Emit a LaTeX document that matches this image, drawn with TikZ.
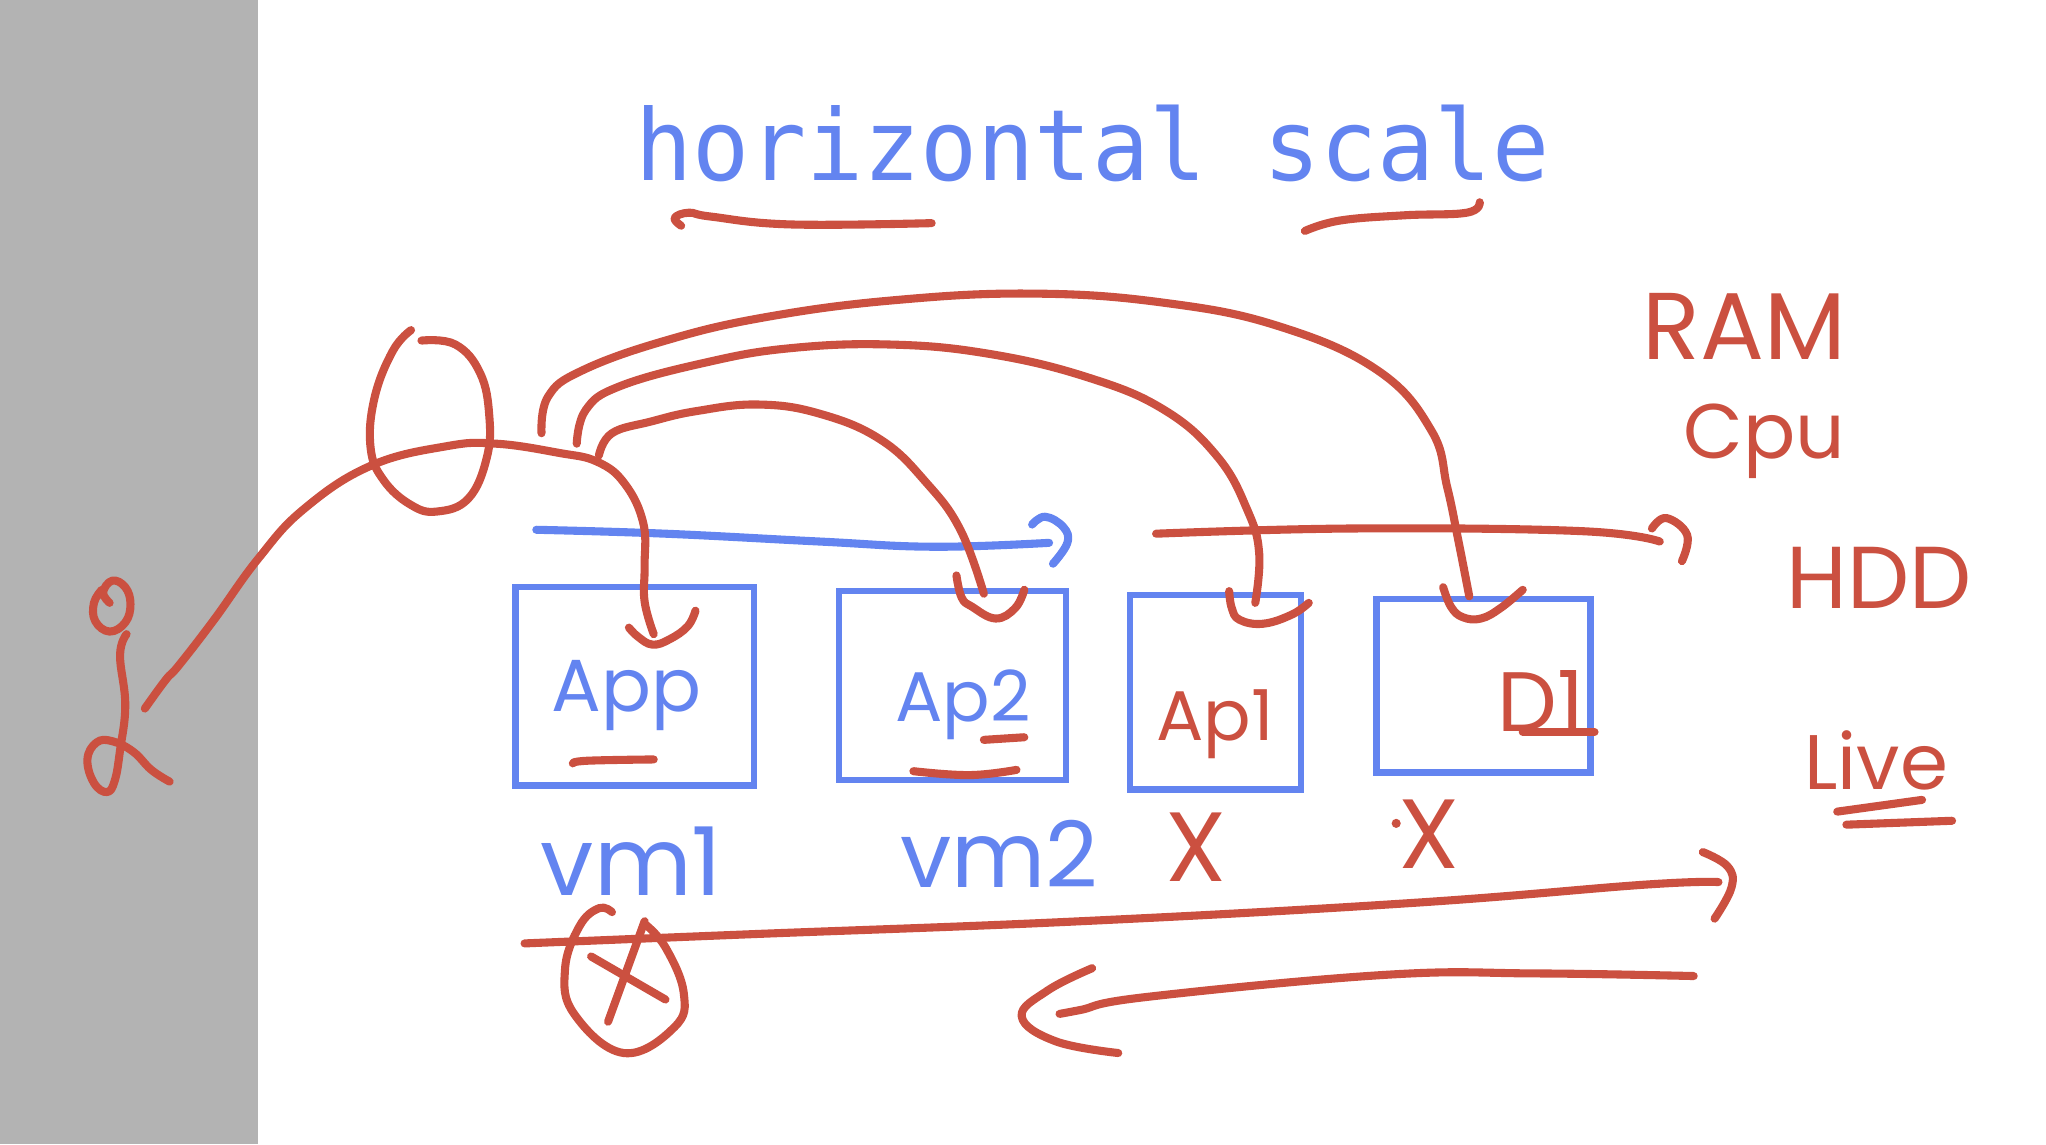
\documentclass[tikz,border=0pt]{standalone}
\usepackage{fontspec}
\setmonofont{DejaVu Sans Mono}
\newfontfamily\handfont{Poppins}
\definecolor{pen}{HTML}{CB5040}
\definecolor{ink}{HTML}{6384F0}
\definecolor{panel}{HTML}{B3B3B3}
\newcommand\handsize[1]{\fontsize{#1}{#1}\selectfont}
\begin{document}
\begin{tikzpicture}[x=0.013048cm,y=-0.013048cm]
    \tikzstyle{redpen}=[draw=pen,line width=2.3pt,line cap=round,line join=round,tension=0.7]
    \tikzstyle{bluepen}=[draw=ink,line width=2.3pt,line cap=round,line join=round,tension=0.7]
    \tikzstyle{vmbox}=[draw=ink,line width=1.8pt,rectangle,inner sep=0pt]
    \tikzstyle{bluehand}=[text=ink,font=\handfont,inner sep=0pt]
    \tikzstyle{redhand}=[text=pen,font=\handfont,inner sep=0pt]

    \fill[panel] (0,0) rectangle (198,877);
    \useasboundingbox (0,0) rectangle (1568,877);

    \node[text=ink,font=\ttfamily\handsize{27},anchor=base] at (837,138) (title) {\scalebox{1}[1.04]{horizontal scale}};
    \draw[redpen] plot[smooth] coordinates {(522,173) (517,167) (528,163) (545,166) (606,172) (714,171)};
    \draw[redpen] plot[smooth] coordinates {(1000,177) (1027,169) (1076,165) (1124,163) (1134,155)};

    \node[vmbox,minimum width=2.388cm,minimum height=1.983cm] at (486.5,526) (vm1) {};
    \node[vmbox,minimum width=2.270cm,minimum height=1.892cm] at (730,525.5) (vm2) {};
    \node[vmbox,minimum width=1.709cm,minimum height=1.944cm] at (931.5,530.5) (vm3) {};
    \node[vmbox,minimum width=2.140cm,minimum height=1.735cm] at (1137,525.5) (vm4) {};

    \node[bluehand] at (480,533) (app) {\handsize{21}App};
    \node[bluehand] at (738,540) (aptwo) {\handsize{20}Ap2};
    \node[redhand] at (931,555) (apone) {\handsize{20}Ap1};
    \node[redhand] at (1181,537) (dbone) {\handsize{24}D1};
    \draw[redpen] plot[smooth] coordinates {(439,585) (450,583) (501,582)};
    \draw[redpen] (754,567) -- (785,565);
    \draw[redpen] plot[smooth] coordinates {(700,591) (743,594) (779,590)};
    \draw[redpen] (1167,561) -- (1222,561);

    \node[bluehand] at (484,660) (vmone) {\handsize{27}vm1};
    \node[bluehand] at (766,654) (vmtwo) {\handsize{26}vm2};
    \node[redhand] at (917,649) (xthree) {\handsize{28}X};
    \node[redhand] at (1095,639) (xfour) {\handsize{28}X};
    \fill[pen] (1070,631) circle (3.5);

    \node[redhand] at (1337,250) (ram) {\handsize{27}RAM};
    \node[redhand] at (1352,338) (cpu) {\handsize{22}Cpu};
    \node[redhand] at (1440,443) (hdd) {\handsize{25}HDD};
    \node[redhand] at (1438,583) (live) {\handsize{22}Live};
    \draw[redpen] (1408,622) -- (1473,613);
    \draw[redpen] (1415,632) -- (1496,629);

    \draw[bluepen] plot[smooth] coordinates {(411,406) (510,409) (628,415) (716,419) (804,416)};
    \draw[bluepen] plot[smooth] coordinates {(791,402) (801,396) (815,404) (818,416) (807,432)};
    \draw[redpen] plot[smooth] coordinates {(886,409) (1038,405) (1211,407) (1272,415)};
    \draw[redpen] plot[smooth] coordinates {(1266,405) (1277,397) (1293,410) (1289,430)};

    \coordinate (hand) at (111,543);
    \coordinate (apptip) at (501,486);
    \coordinate (fanA) at (415,332);
    \coordinate (fanB) at (442,340);
    \coordinate (fanC) at (459,349);
    \coordinate (dbtip) at (1126,457);
    \coordinate (aponetip) at (962,462);
    \coordinate (aptwotip) at (754,455);

    \draw[redpen] plot[smooth] coordinates {(84,462) (79,454) (86,445) (96,450) (100,463) (96,477) (84,484) (73,476) (72,462) (78,452)};
    \draw[redpen] plot[smooth] coordinates {(97,486) (92,502) (96,540) (92,575) (88,598) (82,607) (72,600) (67,582) (74,569) (86,568) (102,576) (116,590) (130,599)};

    \draw[redpen] plot[smooth] coordinates {(hand) (127,521) (137,510) (164,475) (198,428) (233,390) (284,357) (342,342) (380,340) (428,347) (458,354) (479,371) (493,401) (494,434) (494,461) (apptip)};
    \draw[redpen] plot[smooth] coordinates {(482,481) (489,488) (500,494) (513,490) (527,480) (533,468)};
    \draw[redpen] plot[smooth] coordinates {(315,253) (301,269) (287,305) (284,343) (294,368) (315,387) (335,392) (359,382) (373,351) (375,319) (368,286) (349,264) (323,261)};

    \draw[redpen] plot[smooth] coordinates {(fanA) (420,304) (446,284) (510,261) (587,243) (686,230) (792,225) (892,232) (980,250) (1056,284) (1097,330) (1109,373) (1117,411) (dbtip)};
    \draw[redpen] plot[smooth] coordinates {(1106,450) (1112,465) (1121,473) (1135,474) (1150,466) (1167,452)};
    \draw[redpen] plot[smooth] coordinates {(fanB) (449,314) (475,296) (540,278) (604,267) (681,264) (757,271) (833,289) (892,314) (933,350) (956,391) (965,424) (aponetip)};
    \draw[redpen] plot[smooth] coordinates {(942,453) (944,466) (950,475) (968,478) (990,471) (1003,462)};
    \draw[redpen] plot[smooth] coordinates {(fanC) (469,332) (499,323) (534,315) (581,310) (628,317) (675,337) (710,370) (736,406) (aptwotip)};
    \draw[redpen] plot[smooth] coordinates {(733,441) (737,458) (745,465) (763,474) (778,466) (785,452)};

    \draw[redpen] plot[smooth] coordinates {(402,723) (574,716) (828,706) (1082,692) (1260,678) (1317,676)};
    \draw[redpen] plot[smooth] coordinates {(1305,653) (1324,664) (1327,680) (1314,704)};
    \draw[redpen] plot[smooth] coordinates {(469,699) (459,696) (444,710) (433,743) (440,777) (478,807) (517,787) (524,761) (510,726) (494,708)};
    \draw[redpen] (453,733) -- (510,766);
    \draw[redpen] (494,706) -- (466,783);

    \draw[redpen] plot[smooth] coordinates {(1298,748) (1177,746) (1063,747) (879,764) (828,774) (812,777)};
    \draw[redpen] plot[smooth] coordinates {(837,742) (803,759) (783,779) (809,798) (857,807)};
\end{tikzpicture}
\end{document}
